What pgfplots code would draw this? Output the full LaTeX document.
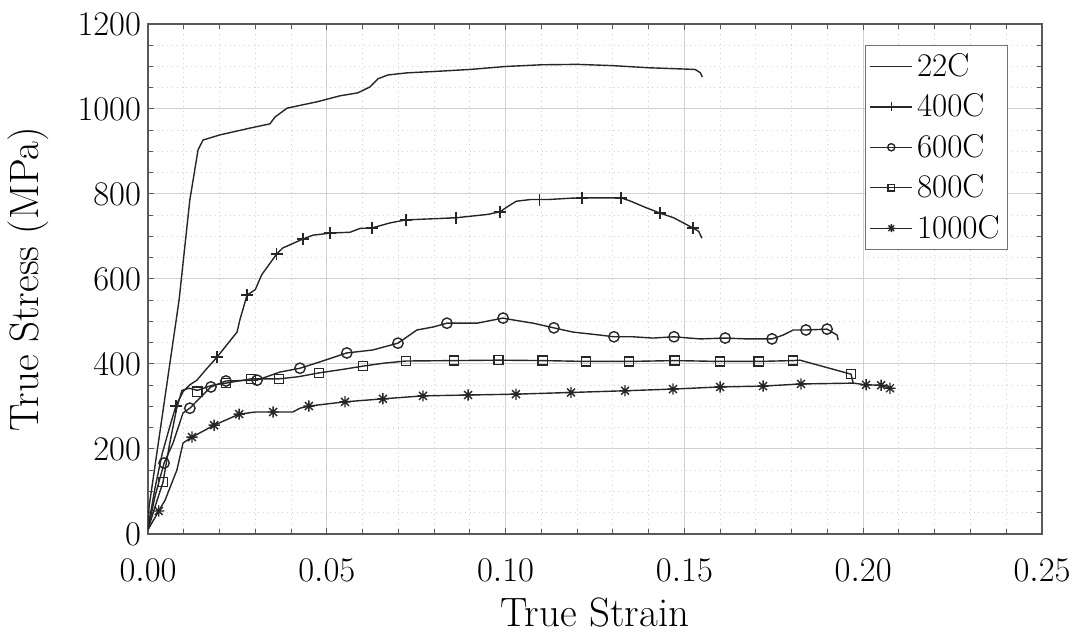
\documentclass[border=0pt]{standalone}
\usepackage{pgfplots}
\pgfplotsset{compat=1.18}
\pgfdeclareplotmark{mstar}{%
  \pgfpathmoveto{\pgfpoint{0pt}{\pgfplotmarksize}}\pgfpathlineto{\pgfpoint{0pt}{-\pgfplotmarksize}}%
  \pgfpathmoveto{\pgfpoint{\pgfplotmarksize}{0pt}}\pgfpathlineto{\pgfpoint{-\pgfplotmarksize}{0pt}}%
  \pgfpathmoveto{\pgfpoint{0.707\pgfplotmarksize}{0.707\pgfplotmarksize}}\pgfpathlineto{\pgfpoint{-0.707\pgfplotmarksize}{-0.707\pgfplotmarksize}}%
  \pgfpathmoveto{\pgfpoint{-0.707\pgfplotmarksize}{0.707\pgfplotmarksize}}\pgfpathlineto{\pgfpoint{0.707\pgfplotmarksize}{-0.707\pgfplotmarksize}}%
  \pgfusepathqstroke}
\begin{document}
\begin{tikzpicture}
\begin{axis}[
  name=ax,
  scale only axis,
  width=447pt, height=255pt,
  xmin=0, xmax=0.25, ymin=0, ymax=1200,
  xtick={0,0.05,0.10,0.15,0.20,0.25},
  ytick={0,200,400,600,800,1000,1200},
  minor x tick num=4,
  minor y tick num=3,
  grid=both,
  major grid style={black!18, line width=0.5pt},
  minor grid style={black!18, dotted, line width=0.5pt},
  tick align=inside,
  xtick pos=both, ytick pos=both,
  major tick length=3pt, minor tick length=2.5pt,
  tick style={black!65, line width=0.5pt},
  axis line style={black!65, line width=0.6pt},
  ticklabel style={font=\fontsize{18.5}{22}\selectfont},
  x tick label style={yshift=-9pt, /pgf/number format/.cd, fixed, fixed zerofill, precision=2, /tikz/.cd},
  y tick label style={/pgf/number format/1000 sep={}},
  xlabel={True Strain}, ylabel={True Stress (MPa)},
  label style={font=\fontsize{20.5}{24}\selectfont},
  xlabel style={at={(axis description cs:0.5,-0.153)}, anchor=center},
  ylabel style={at={(axis description cs:-0.134,0.5)}, anchor=center, rotate=0},
  every axis plot/.append style={black!85, line width=0.7pt},
  legend style={at={(0.962,0.959)}, anchor=north east, draw=black!55, fill=white,
    font=\fontsize{16.5}{19}\selectfont, row sep=3.2pt, inner sep=2pt},
  legend cell align=left,
  legend image code/.code={\draw[mark repeat=2,mark phase=2,#1] plot coordinates {(0pt,0pt) (10.5pt,0pt) (21pt,0pt)};},
]
% 22C
\addplot[no marks, forget plot] coordinates {
(0,9) (0.0003,64) (0.0087,551) (0.0117,786) (0.0140,904) (0.0154,927) (0.0201,939) (0.0285,955)
(0.0341,965) (0.0355,981) (0.0389,1002) (0.0473,1017) (0.0537,1031) (0.0587,1038) (0.0621,1052)
(0.0643,1071) (0.0671,1080) (0.0724,1085) (0.0817,1089) (0.09,1093) (0.10,1100) (0.11,1104)
(0.12,1105) (0.13,1102) (0.14,1097) (0.15,1094) (0.153,1093) (0.1545,1085) (0.155,1075)};
% 400C
\addplot[no marks, forget plot] coordinates {
(0,15) (0.002,110) (0.004,190) (0.006,250) (0.0078,301) (0.0098,335) (0.0117,351) (0.0137,362)
(0.0160,385) (0.0193,416) (0.0225,450) (0.0249,475) (0.0257,504) (0.0277,562) (0.0300,575)
(0.0318,610) (0.0360,659) (0.0377,673) (0.0433,694) (0.0461,703) (0.0509,708) (0.0565,710)
(0.0593,719) (0.0626,720) (0.0677,732) (0.0721,739) (0.0861,744) (0.0950,752) (0.0984,758)
(0.1005,770) (0.1030,783) (0.1070,787) (0.1120,787) (0.1180,790) (0.1214,791) (0.1323,791)
(0.1350,783) (0.1395,767) (0.1432,755) (0.1470,744) (0.1524,720) (0.1540,712) (0.1549,696)};
\addplot[only marks, mark=+, mark size=3pt, forget plot] coordinates {
(0.0078,301) (0.0193,416) (0.0277,562) (0.0360,659) (0.0433,694) (0.0509,708) (0.0626,720)
(0.0721,739) (0.0861,744) (0.0984,758) (0.1095,787) (0.1214,791) (0.1323,791) (0.1432,755) (0.1524,720)};
% 600C
\addplot[no marks, forget plot] coordinates {
(0,10) (0.002,90) (0.0045,167) (0.007,214) (0.0098,285) (0.0117,296) (0.0176,346) (0.0218,360)
(0.0305,362) (0.0369,381) (0.0425,390) (0.0481,405) (0.0556,426) (0.0629,433) (0.0699,449)
(0.0752,480) (0.0797,487) (0.0836,496) (0.092,496) (0.0993,508) (0.1004,506) (0.1077,496)
(0.1135,485) (0.1189,475) (0.1264,468) (0.1303,464) (0.1356,464) (0.1412,461) (0.1471,464)
(0.1544,459) (0.1614,461) (0.1675,459) (0.1745,459) (0.1776,468) (0.1804,480) (0.184,480)
(0.1899,482) (0.1927,468) (0.193,456)};
\addplot[only marks, mark=o, mark size=2.6pt, forget plot] coordinates {
(0.0045,167) (0.0117,296) (0.0176,346) (0.0218,360) (0.0305,362) (0.0425,390) (0.0556,426)
(0.0699,449) (0.0836,496) (0.0993,508) (0.1135,485) (0.1303,464) (0.1471,464) (0.1614,461)
(0.1745,459) (0.184,480) (0.1899,482)};
% 800C
\addplot[no marks, forget plot] coordinates {
(0,10) (0.002,65) (0.0042,122) (0.006,210) (0.008,295) (0.0095,338) (0.0115,343) (0.0138,338)
(0.018,350) (0.0218,355) (0.0288,365) (0.0366,365) (0.042,370) (0.0478,379) (0.055,388)
(0.0601,395) (0.066,402) (0.0721,407) (0.0856,408) (0.098,409) (0.1104,408) (0.1225,406)
(0.1345,406) (0.1473,408) (0.1599,406) (0.1708,406) (0.1804,408) (0.1823,409) (0.1966,376) (0.1972,355)};
\addplot[only marks, mark=square, mark size=2.3pt, forget plot] coordinates {
(0.0042,122) (0.0138,335) (0.0218,355) (0.0288,365) (0.0366,365) (0.0478,379) (0.0601,395)
(0.0721,407) (0.0856,408) (0.098,409) (0.1104,408) (0.1225,406) (0.1345,406) (0.1473,408)
(0.1599,406) (0.1708,406) (0.1804,408) (0.1966,376)};
% 1000C
\addplot[no marks, forget plot] coordinates {
(0,10) (0.003,54) (0.0048,80) (0.0081,151) (0.0098,214) (0.0123,228) (0.0185,256) (0.0255,282)
(0.030,287) (0.0350,287) (0.0405,287) (0.0425,296) (0.045,301) (0.0551,311) (0.0657,318)
(0.0769,325) (0.0895,327) (0.1029,329) (0.1183,333) (0.1334,337) (0.1468,341) (0.1600,346)
(0.172,348) (0.1826,353) (0.1972,355) (0.2008,351) (0.205,350) (0.2075,343)};
\addplot[only marks, mark=mstar, mark size=2.8pt, forget plot] coordinates {
(0.003,54) (0.0123,228) (0.0185,256) (0.0255,282) (0.035,287) (0.045,301) (0.0551,311)
(0.0657,318) (0.0769,325) (0.0895,327) (0.1029,329) (0.1183,333) (0.1334,337) (0.1468,341)
(0.16,346) (0.172,348) (0.1826,353) (0.2008,351) (0.205,350) (0.2075,343)};
\addlegendimage{black!85, line width=0.7pt, no marks}
\addlegendentry{22C}
\addlegendimage{black!85, line width=0.7pt, mark=+, mark size=2.2pt}
\addlegendentry{400C}
\addlegendimage{black!85, line width=0.7pt, mark=o, mark size=1.8pt}
\addlegendentry{600C}
\addlegendimage{black!85, line width=0.7pt, mark=square, mark size=1.6pt}
\addlegendentry{800C}
\addlegendimage{black!85, line width=0.7pt, mark=mstar, mark size=2pt}
\addlegendentry{1000C}
\end{axis}
\path (ax.south west) ++(-74pt,-49.5pt);
\path (ax.north east) ++(19.5pt,12pt);
\end{tikzpicture}
\end{document}
